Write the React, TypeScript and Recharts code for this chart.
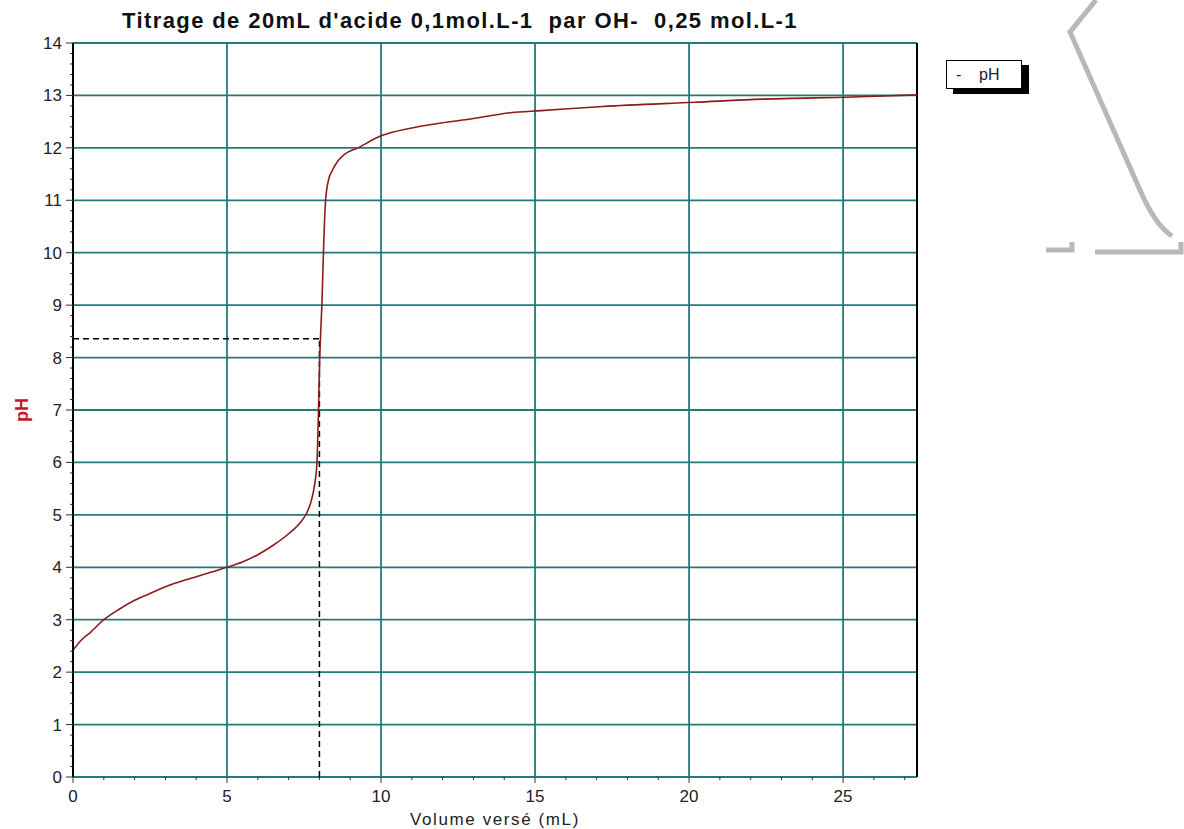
import React from 'react';
import { LineChart, Line, XAxis, YAxis, ReferenceLine } from 'recharts';

// volume versé (mL) et pH
const volume = [
  0, 0.25, 0.55, 1, 1.5, 2, 2.5, 3, 3.5, 4, 4.5, 5, 5.5, 6, 6.5, 7, 7.4, 7.6, 7.75, 7.85,
  7.92, 7.97, 8.01, 8.05, 8.08, 8.13, 8.2, 8.3, 8.4, 8.6, 8.8, 9.25, 10, 11, 12, 12.8, 14.2,
  15.2, 17.2, 20.2, 22.4, 25.3, 27.4,
];
const ph = [
  2.42, 2.6, 2.75, 3.0, 3.2, 3.37, 3.5, 3.63, 3.73, 3.82, 3.91, 4.0, 4.1, 4.24, 4.42, 4.64,
  4.87, 5.05, 5.3, 5.6, 6.0, 7.0, 8.0, 8.6, 9.0, 10.0, 11.0, 11.4, 11.55, 11.75, 11.87, 12.0,
  12.23, 12.38, 12.48, 12.54, 12.67, 12.71, 12.79, 12.87, 12.93, 12.97, 13.01,
];

const xMajor = [0, 5, 10, 15, 20, 25];
const yMajor = [0, 1, 2, 3, 4, 5, 6, 7, 8, 9, 10, 11, 12, 13, 14];
const xMax = 27.4;

// point d'équivalence (pointillés)
const vEq = 8.0;
const phEq = 8.36;

const titre = "Titrage de 20mL d'acide 0,1mol.L-1  par OH-  0,25 mol.L-1";

const data = volume.map((v, i) => ({ v, ph: ph[i] }));

// graduations secondaires : 1 mL en x, 0,2 en pH
const xTicks = Array.from({ length: 28 }, (_, i) => i);
const yTicks = Array.from({ length: 71 }, (_, i) => i / 5);

const GRID = '#217c79';
const FONT = '"Liberation Sans", Arial, sans-serif';

const XTick = ({ x, y, payload }: any) => {
  const major = payload.value % 5 === 0;
  return (
    <g>
      <line x1={x} x2={x} y1={y} y2={y + (major ? 6 : 3)} stroke="#333" />
      {major && (
        <text x={x} y={y + 25} textAnchor="middle" fontSize={17} fill="#222" fontFamily={FONT}>
          {payload.value}
        </text>
      )}
    </g>
  );
};

const YTick = ({ x, y, payload }: any) => {
  const v = payload.value;
  const major = Math.abs(v - Math.round(v)) < 1e-6;
  return (
    <g>
      <line x1={x - (major ? 7 : 3)} x2={x} y1={y} y2={y} stroke="#333" />
      {major && (
        <text x={x - 11} y={y + 6} textAnchor="end" fontSize={17} fill="#222" fontFamily={FONT}>
          {Math.round(v)}
        </text>
      )}
    </g>
  );
};

const Deco = () => (
  <svg
    width={1184}
    height={829}
    style={{ position: 'absolute', left: 0, top: 0, pointerEvents: 'none' }}
  >
    <g fill="none" stroke="#b8b8b8" strokeWidth={5}>
      <path d="M1096 0 L1070 32 L1140 190 Q1155 225 1172 236" />
      <path d="M1095 252 L1181 252 L1181 242" />
      <path d="M1046 250 L1072 250 L1072 242" />
    </g>
  </svg>
);

export default function App() {
  return (
    <div
      style={{
        position: 'absolute',
        left: 0,
        top: 0,
        width: 1184,
        height: 829,
        background: '#fff',
        fontFamily: FONT,
      }}
    >
      <Deco />
      <div
        style={{
          position: 'absolute',
          left: 0,
          top: 8,
          width: 920,
          textAlign: 'center',
          fontSize: 22,
          lineHeight: '26px',
          letterSpacing: 1.4,
          fontWeight: 'bold',
          color: '#111',
          whiteSpace: 'pre',
        }}
      >
        {titre}
      </div>
      <div
        style={{
          position: 'absolute',
          left: 946,
          top: 60,
          width: 74,
          height: 27,
          border: '1px solid #000',
          background: '#fff',
          boxShadow: '7px 5px 0 #000',
          fontSize: 16,
          lineHeight: '27px',
          color: '#222',
          whiteSpace: 'pre',
        }}
      >
        {'  -    pH'}
      </div>
      <LineChart
        width={1184}
        height={829}
        data={data}
        margin={{ top: 43, right: 267, bottom: 0, left: 0 }}
      >
        <XAxis
          dataKey="v"
          type="number"
          domain={[0, xMax]}
          ticks={xTicks}
          interval={0}
          tick={<XTick />}
          tickLine={false}
          tickSize={0}
          tickMargin={0}
          axisLine={false}
          height={52}
          label={{
            value: 'Volume versé (mL)',
            position: 'insideBottom',
            offset: 4,
            style: { fontSize: 17, fill: '#222', fontFamily: FONT, letterSpacing: 1.6 },
          }}
        />
        <YAxis
          type="number"
          domain={[0, 14]}
          ticks={yTicks}
          interval={0}
          tick={<YTick />}
          tickLine={false}
          tickSize={0}
          tickMargin={0}
          width={73}
          axisLine={{ stroke: '#000', strokeWidth: 2 }}
          label={{
            value: 'pH',
            angle: -90,
            position: 'insideLeft',
            offset: 22,
            style: { fontSize: 18, fontWeight: 'bold', fill: '#c8141e', textAnchor: 'middle', fontFamily: FONT },
          }}
        />
        {yMajor.map((p) => (
          <ReferenceLine key={'h' + p} y={p} stroke={GRID} strokeWidth={1.8} />
        ))}
        {xMajor.slice(1).map((v) => (
          <ReferenceLine key={'v' + v} x={v} stroke={GRID} strokeWidth={1.8} />
        ))}
        <ReferenceLine x={xMax} stroke="#000" strokeWidth={2} />
        <ReferenceLine
          segment={[{ x: 0, y: phEq }, { x: vEq, y: phEq }]}
          stroke="#000"
          strokeWidth={1.5}
          strokeDasharray="6 4"
        />
        <ReferenceLine
          segment={[{ x: vEq, y: 0 }, { x: vEq, y: phEq }]}
          stroke="#000"
          strokeWidth={1.5}
          strokeDasharray="6 4"
        />
        <Line
          dataKey="ph"
          type="monotone"
          stroke="#8e1b1b"
          strokeWidth={1.6}
          dot={false}
          isAnimationActive={false}
        />
      </LineChart>
    </div>
  );
}
